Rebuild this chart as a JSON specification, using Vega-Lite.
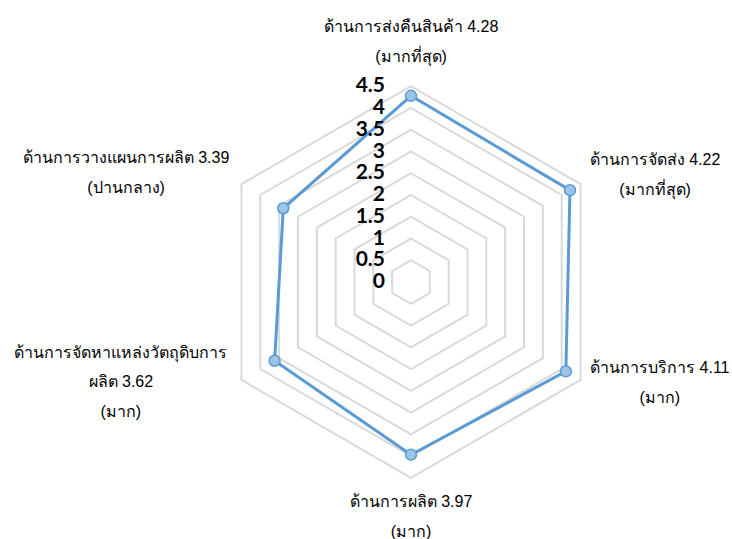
{
  "$schema": "https://vega.github.io/schema/vega-lite/v6.json",
  "width": 732,
  "height": 539,
  "autosize": "none",
  "padding": 0,
  "background": "white",
  "config": {"view": {"stroke": null}},
  "datasets": {
    "cats": [
      {"k": 0, "value": 4.28, "label": "ด้านการส่งคืนสินค้า 4.28\n(มากที่สุด)"},
      {"k": 1, "value": 4.22, "label": "ด้านการจัดส่ง 4.22\n(มากที่สุด)"},
      {"k": 2, "value": 4.11, "label": "ด้านการบริการ 4.11\n(มาก)"},
      {"k": 3, "value": 3.97, "label": "ด้านการผลิต 3.97\n(มาก)"},
      {"k": 4, "value": 3.62, "label": "ด้านการจัดหาแหล่งวัตถุดิบการ\nผลิต 3.62\n(มาก)"},
      {"k": 5, "value": 3.39, "label": "ด้านการวางแผนการผลิต 3.39\n(ปานกลาง)"}
    ],
    "ticks": [
      {"t": 0}, {"t": 0.5}, {"t": 1}, {"t": 1.5}, {"t": 2},
      {"t": 2.5}, {"t": 3}, {"t": 3.5}, {"t": 4}, {"t": 4.5}
    ]
  },
  "encoding": {
    "x": {"field": "px", "type": "quantitative", "scale": {"domain": [-9.4483, 7.3793], "nice": false, "zero": false}, "axis": null},
    "y": {"field": "py", "type": "quantitative", "scale": {"domain": [-5.908, 6.4828], "nice": false, "zero": false}, "axis": null}
  },
  "layer": [
    {
      "data": {"name": "cats"},
      "transform": [
        {"calculate": "[0.5,1,1.5,2,2.5,3,3.5,4,4.5]", "as": "lv"},
        {"flatten": ["lv"]},
        {"calculate": "datum.lv*sin(datum.k*PI/3)", "as": "px"},
        {"calculate": "datum.lv*cos(datum.k*PI/3)", "as": "py"}
      ],
      "mark": {"type": "line", "interpolate": "linear-closed", "stroke": "#d9d9d9", "strokeWidth": 2},
      "encoding": {
        "detail": {"field": "lv", "type": "nominal"},
        "order": {"field": "k", "type": "quantitative"}
      }
    },
    {
      "data": {"name": "cats"},
      "transform": [
        {"calculate": "datum.value*sin(datum.k*PI/3)", "as": "px"},
        {"calculate": "datum.value*cos(datum.k*PI/3)", "as": "py"}
      ],
      "mark": {"type": "line", "interpolate": "linear-closed", "stroke": "#5b9bd5", "strokeWidth": 3},
      "encoding": {
        "order": {"field": "k", "type": "quantitative"}
      }
    },
    {
      "data": {"name": "cats"},
      "transform": [
        {"calculate": "datum.value*sin(datum.k*PI/3)", "as": "px"},
        {"calculate": "datum.value*cos(datum.k*PI/3)", "as": "py"}
      ],
      "mark": {"type": "point", "shape": "circle", "filled": true, "fill": "#9dc3e6", "stroke": "#5b9bd5", "strokeWidth": 1.5, "size": 120, "opacity": 1}
    },
    {
      "data": {"name": "ticks"},
      "transform": [
        {"calculate": "0", "as": "px"},
        {"calculate": "datum.t", "as": "py"}
      ],
      "mark": {"type": "text", "align": "right", "baseline": "middle", "dx": -26, "font": "Lato", "fontWeight": "bold", "fontSize": 21, "color": "#000000"},
      "encoding": {
        "text": {"field": "t", "type": "quantitative"}
      }
    },
    {
      "data": {"name": "cats"},
      "transform": [
        {"calculate": "[0, 5.61, 5.72, 0, -6.67, -6.55][datum.k]", "as": "px"},
        {"calculate": "[5.86, 2.80, -1.98, -5.06, -1.63, 2.85][datum.k]", "as": "py"}
      ],
      "mark": {"type": "text", "align": "center", "baseline": "middle", "lineBreak": "\n", "lineHeight": 29.5, "font": "Liberation Sans", "fontSize": 16, "color": "#000000"},
      "encoding": {
        "text": {"field": "label", "type": "nominal"}
      }
    }
  ]
}
